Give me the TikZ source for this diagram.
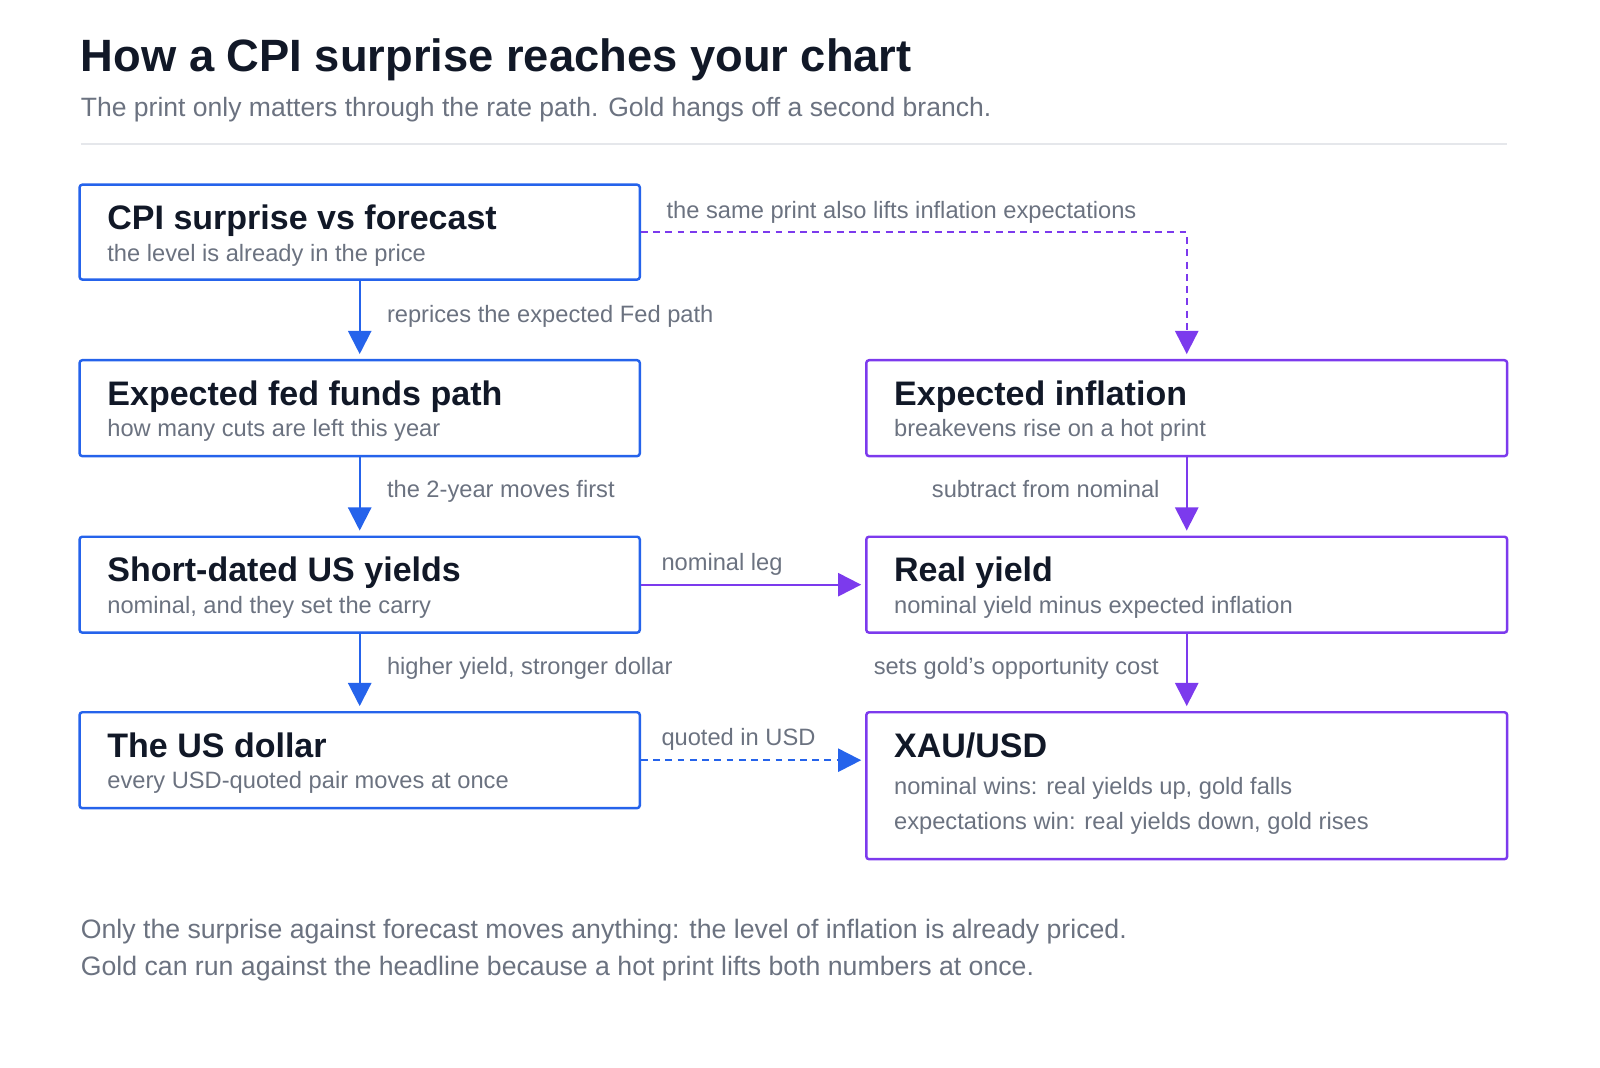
\documentclass[tikz,border=0pt]{standalone}
\usepackage{fontspec}
\setmainfont{Liberation Sans}
\usetikzlibrary{arrows.meta,calc}
\definecolor{bl}{HTML}{2563EB}
\definecolor{pu}{HTML}{7C3AED}
\definecolor{ink}{HTML}{111827}
\definecolor{gr}{HTML}{6B7280}
\definecolor{rule}{HTML}{E5E7EB}
\begin{document}
\begin{tikzpicture}[x=0.75pt,y=-0.75pt,
  box/.style={draw=#1,line width=1.8pt,rounded corners=2pt},
  ttl/.style={anchor=base west,text=ink,font=\fontsize{25}{28}\selectfont\bfseries,inner sep=0},
  sub/.style={anchor=base west,text=gr,font=\fontsize{17.4}{20}\selectfont,inner sep=0},
  lab/.style={anchor=base west,text=gr,font=\fontsize{17.4}{20}\selectfont,inner sep=0},
  arr/.style={draw=#1,line width=1.6pt,-{Triangle[length=17pt,width=17pt]}},
  dsh/.style={arr=#1,dash pattern=on 5pt off 4pt}]
\useasboundingbox (0,0) rectangle (1568,1045.7);
\node[anchor=base west,inner sep=0,text=ink,font=\fontsize{33.3}{36}\selectfont\bfseries] (t) at (79,70) {How a CPI surprise reaches your chart};
\node[anchor=base west,inner sep=0,text=gr,font=\fontsize{19.5}{22}\selectfont] (st) at (79,114) {The print only matters through the rate path. Gold hangs off a second branch.};
\draw[rule,line width=1.5pt] (79,141) -- (1477,141);
% boxes
\draw[box=bl] (78,181) rectangle (627,274);
\draw[box=bl] (78,353) rectangle (627,447);
\draw[box=bl] (78,526) rectangle (627,620);
\draw[box=bl] (78,698) rectangle (627,792);
\draw[box=pu] (849,353) rectangle (1477,447);
\draw[box=pu] (849,526) rectangle (1477,620);
\draw[box=pu] (849,698) rectangle (1477,842);
% texts
\node[ttl] (a1) at (105,225) {CPI surprise vs forecast};
\node[sub] (a2) at (105,256) {the level is already in the price};
\node[ttl] (b1t) at (105,397) {Expected fed funds path};
\node[sub] (b2) at (105,428) {how many cuts are left this year};
\node[ttl] (c1) at (105,570) {Short-dated US yields};
\node[sub] (c2) at (105,601) {nominal, and they set the carry};
\node[ttl] (d1) at (105,742) {The US dollar};
\node[sub] (d2) at (105,773) {every USD-quoted pair moves at once};
\node[ttl] (e1) at (876,397) {Expected inflation};
\node[sub] (e2) at (876,428) {breakevens rise on a hot print};
\node[ttl] (f1) at (876,570) {Real yield};
\node[sub] (f2) at (876,601) {nominal yield minus expected inflation};
\node[ttl] (g1) at (876,742) {XAU/USD};
\node[sub] (g2) at (876,779) {nominal wins: real yields up, gold falls};
\node[sub] (g3) at (876,813) {expectations win: real yields down, gold rises};
% coordinates
\coordinate (Ab) at (352.5,275); \coordinate (Bt) at (352.5,347);
\coordinate (Bb) at (352.5,448); \coordinate (Ct) at (352.5,520);
\coordinate (Cb) at (352.5,621); \coordinate (Dt) at (352.5,692);
\coordinate (Ar) at (628,227.5); \coordinate (Et) at (1163,347);
\coordinate (Eb) at (1163,448); \coordinate (Ft) at (1163,520);
\coordinate (Fb) at (1163,621); \coordinate (Gt) at (1163,692);
\coordinate (Cr) at (628,573); \coordinate (Fl) at (844,573);
\coordinate (Dr) at (628,745); \coordinate (Gl) at (844,745);
\draw[arr=bl] (Ab) -- (Bt);
\draw[arr=bl] (Bb) -- (Ct);
\draw[arr=bl] (Cb) -- (Dt);
\draw[dsh=pu] (Ar) -| (Et);
\draw[arr=pu] (Eb) -- (Ft);
\draw[arr=pu] (Fb) -- (Gt);
\draw[arr=pu] (Cr) -- (Fl);
\draw[dsh=bl] (Dr) -- (Gl);
% labels
\node[lab] at (653,214) {the same print also lifts inflation expectations};
\node[lab] at (379,316) {reprices the expected Fed path};
\node[lab] at (379,488) {the 2-year moves first};
\node[lab] at (913,488) {subtract from nominal};
\node[lab] at (648,559) {nominal leg};
\node[lab] at (379,661) {higher yield, stronger dollar};
\node[lab] at (856,661) {sets gold's opportunity cost};
\node[lab] at (648,731) {quoted in USD};
\node[anchor=base west,inner sep=0,text=gr,font=\fontsize{19.6}{22}\selectfont] at (79,920) {Only the surprise against forecast moves anything: the level of inflation is already priced.};
\node[anchor=base west,inner sep=0,text=gr,font=\fontsize{19.6}{22}\selectfont] at (79,956) {Gold can run against the headline because a hot print lifts both numbers at once.};
\end{tikzpicture}
\end{document}
